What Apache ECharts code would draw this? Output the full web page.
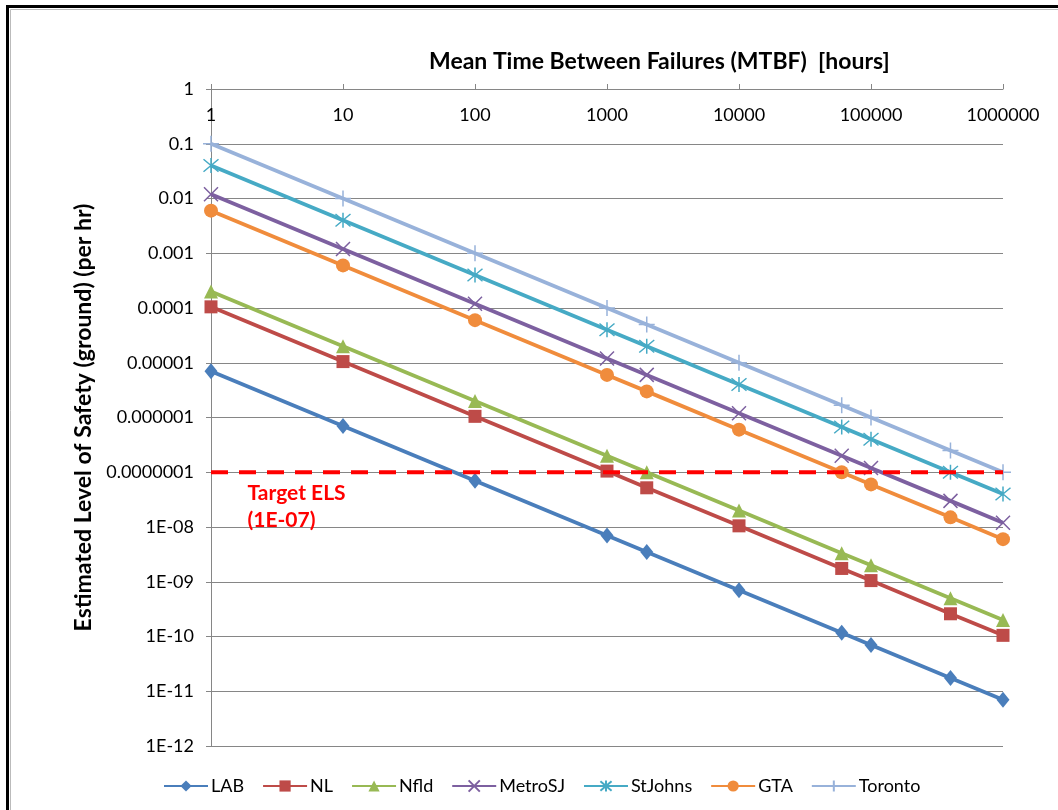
<!DOCTYPE html>
<html>
<head>
<meta charset="utf-8">
<script src="https://cdn.jsdelivr.net/npm/echarts@6/dist/echarts.min.js"></script>
<style>
html,body{margin:0;padding:0;background:#fff;}
#chart{width:1058px;height:810px;}
</style>
</head>
<body>
<div id="chart"></div>
<script>
// MTBF (hours) at which each point is plotted
const mtbf = [1, 10, 100, 1000, 2000, 10000, 60000, 100000, 400000, 1000000];
// Estimated Level of Safety (per hr)
const lab     = [7e-6, 7e-7, 7e-8, 7e-9, 3.5e-9, 7e-10, 1.17e-10, 7e-11, 1.75e-11, 7e-12];
const nl      = [1.05e-4, 1.05e-5, 1.05e-6, 1.05e-7, 5.2e-8, 1.05e-8, 1.75e-9, 1.05e-9, 2.6e-10, 1.05e-10];
const nfld    = [2e-4, 2e-5, 2e-6, 2e-7, 1e-7, 2e-8, 3.3e-9, 2e-9, 5e-10, 2e-10];
const metroSJ = [1.2e-2, 1.2e-3, 1.2e-4, 1.2e-5, 6e-6, 1.2e-6, 2e-7, 1.2e-7, 3e-8, 1.2e-8];
const stJohns = [4e-2, 4e-3, 4e-4, 4e-5, 2e-5, 4e-6, 6.7e-7, 4e-7, 1e-7, 4e-8];
const gta     = [6e-3, 6e-4, 6e-5, 6e-6, 3e-6, 6e-7, 1e-7, 6e-8, 1.5e-8, 6e-9];
const toronto = [1e-1, 1e-2, 1e-3, 1e-4, 5e-5, 1e-5, 1.67e-6, 1e-6, 2.5e-7, 1e-7];
const targetX = [1, 1000000];
const targetEls = [1e-7, 1e-7];
const xTicks = ['1', '10', '100', '1000', '10000', '100000', '1000000'];
const yTicks = ['1E-12', '1E-11', '1E-10', '1E-09', '1E-08', '0.0000001', '0.000001', '0.00001', '0.0001', '0.001', '0.01', '0.1', '1'];

const seriesNames = ['LAB', 'NL', 'Nfld', 'MetroSJ', 'StJohns', 'GTA', 'Toronto'];
const seriesValues = [lab, nl, nfld, metroSJ, stJohns, gta, toronto];
const colors = ['#4A7EBB', '#BE4B48', '#98B954', '#7D60A0', '#46AAC5', '#F08C3C', '#98B2DA'];
const symbols = [
  'diamond', 'rect', 'triangle',
  'path://M0,0L10,10M10,0L0,10',
  'path://M0,0L10,10M10,0L0,10M5,-1L5,11',
  'circle',
  'path://M5,0L5,10M0,5L10,5'
];
const symbolSizes = [[13, 16], 13, 14, 14, 15, 14, 16];
const strokeSym = [false, false, false, true, true, false, true];

const FONT = 'Lato';

const series = seriesNames.map((name, i) => ({
  name: name,
  type: 'line',
  data: mtbf.map((x, j) => [x, seriesValues[i][j]]),
  symbol: symbols[i],
  symbolSize: symbolSizes[i],
  showSymbol: true,
  lineStyle: { color: colors[i], width: 3.8 },
  itemStyle: strokeSym[i]
    ? { color: colors[i], borderColor: colors[i], borderWidth: 1.5 }
    : { color: colors[i], borderWidth: 0 },
  emphasis: { disabled: true },
  z: 2 + i
}));

series.push({
  name: 'Target ELS',
  type: 'line',
  data: targetX.map((x, j) => [x, targetEls[j]]),
  symbol: 'none',
  z: 20,
  silent: true,
  lineStyle: { color: '#FF0000', width: 4, type: [17, 11] },
  emphasis: { disabled: true },
  markPoint: {
    silent: true,
    symbol: 'rect',
    symbolSize: 1,
    itemStyle: { color: 'rgba(0,0,0,0)' },
    label: {
      show: true,
      position: [37, 8],
      formatter: 'Target ELS\n(1E-07)',
      color: '#FF0000',
      fontFamily: FONT,
      fontWeight: 'bold',
      fontSize: 21,
      lineHeight: 27,
      align: 'left',
      verticalAlign: 'top'
    },
    data: [{ coord: [targetX[0], targetEls[0]] }]
  }
});

function yLabel(v) {
  const e = Math.round(Math.log10(v));
  return yTicks[e + 12];
}
function xLabel(v) {
  const e = Math.round(Math.log10(v));
  return xTicks[e];
}

const chart = echarts.init(document.getElementById('chart'), null, { renderer: 'canvas' });
chart.setOption({
  animation: false,
  backgroundColor: '#ffffff',
  color: colors,
  title: {
    text: 'Mean Time Between Failures (MTBF)  [hours]',
    left: 424,
    top: 45,
    textStyle: { fontFamily: FONT, fontWeight: 'bold', fontSize: 23, color: '#000' }
  },
  grid: { left: 211, top: 89, width: 792, height: 657, containLabel: false },
  legend: {
    data: seriesNames,
    left: 158,
    top: 772,
    itemWidth: 44,
    itemHeight: 14,
    itemGap: 18,
    textStyle: { fontFamily: FONT, fontSize: 18, color: '#000', padding: [0, 0, 0, -2] }
  },
  xAxis: {
    type: 'log',
    logBase: 10,
    min: 1,
    max: 1000000,
    interval: 1,
    splitNumber: 6,
    position: 'top',
    axisLine: { show: true, lineStyle: { color: '#868686', width: 1 } },
    axisTick: { show: true, inside: false, length: 5, lineStyle: { color: '#868686' } },
    minorTick: { show: false },
    axisLabel: { inside: true, margin: 17, fontFamily: FONT, fontSize: 18, color: '#000', formatter: xLabel },
    splitLine: { show: false }
  },
  yAxis: {
    type: 'log',
    logBase: 10,
    min: 1e-12,
    max: 1,
    interval: 1,
    name: 'Estimated Level of Safety (ground) (per hr)',
    nameLocation: 'middle',
    nameGap: 103,
    nameTextStyle: { fontFamily: FONT, fontWeight: 'bold', fontSize: 23, color: '#000' },
    axisLine: { show: true, lineStyle: { color: '#868686', width: 1 } },
    axisTick: { show: true, inside: false, length: 5, lineStyle: { color: '#868686' } },
    axisLabel: { margin: 17, fontFamily: FONT, fontSize: 18, color: '#000', formatter: yLabel },
    splitLine: { show: true, lineStyle: { color: '#868686', width: 1 } }
  },
  graphic: [{
    type: 'rect',
    silent: true,
    shape: { x: 7.5, y: 6.5, width: 1100, height: 900 },
    style: { fill: 'none', stroke: '#000', lineWidth: 3 },
    z: 100
  }, {
    type: 'rect',
    silent: true,
    shape: { x: 10.5, y: 9.5, width: 1100, height: 900 },
    style: { fill: 'none', stroke: '#bbbbbb', lineWidth: 1 },
    z: 100
  }],
  series: series
});
</script>
</body>
</html>
